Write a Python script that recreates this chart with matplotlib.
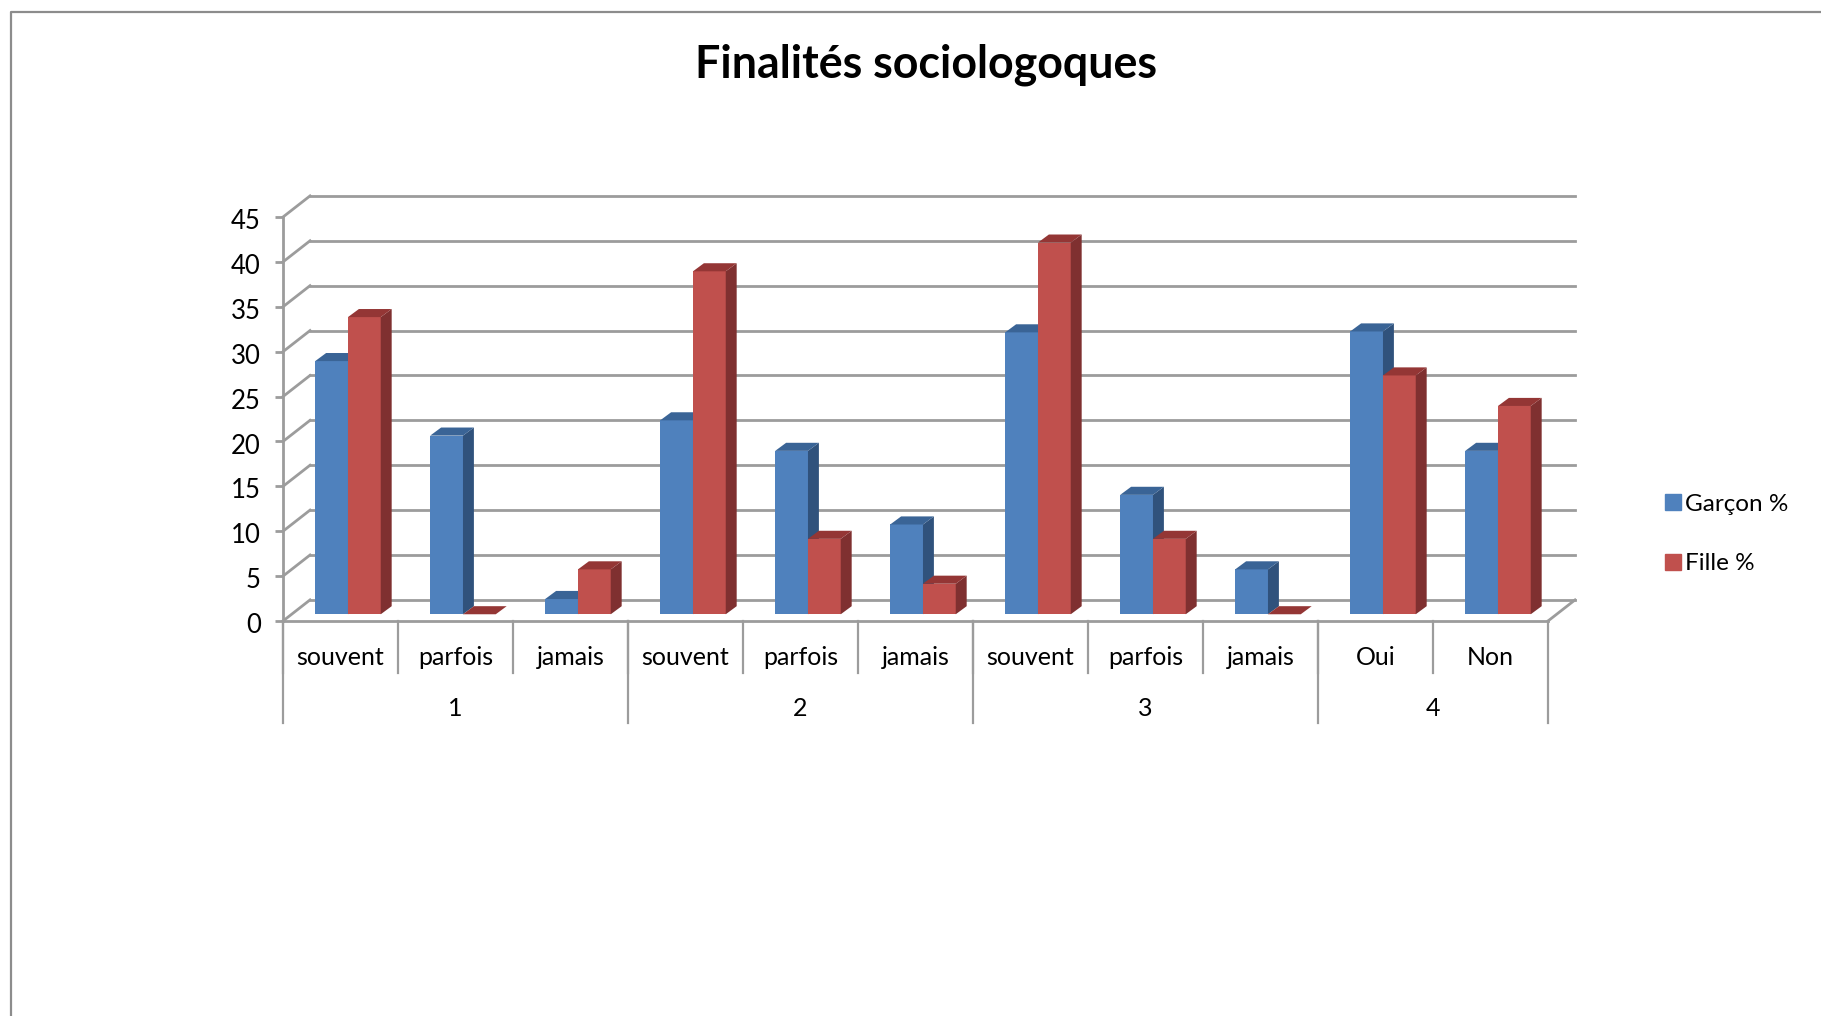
import matplotlib
matplotlib.use('Agg')
import matplotlib.pyplot as plt
from matplotlib.lines import Line2D
from matplotlib.patches import Patch, Polygon
from matplotlib.transforms import ScaledTranslation

plt.rcParams['font.family'] = ['Lato', 'DejaVu Sans']

# Values
categories = ['souvent', 'parfois', 'jamais', 'souvent', 'parfois', 'jamais',
              'souvent', 'parfois', 'jamais', 'Oui', 'Non']
groups = ['1', '2', '3', '4']
group_sizes = [3, 3, 3, 2]
garcon = [28.2, 19.9, 1.7, 21.6, 18.2, 10.0, 31.4, 13.3, 5.0, 31.5, 18.2]
fille = [33.1, 0, 5.0, 38.2, 8.4, 3.4, 41.4, 8.4, 0, 26.6, 23.2]
y_ticks = list(range(0, 50, 5))

W, H = 1821, 1016
fig = plt.figure(figsize=(W / 100, H / 100), dpi=100)
ax = fig.add_axes([283 / W, 1 - 621 / H, (1548 - 283) / W, (621 - 217) / H])
ax.set_xlim(0, 11)
ax.set_ylim(0, 45)
ax.patch.set_visible(False)

grey = '#9c9c9c'
wall_dx, wall_dy = 0.235, 2.35      # depth of the back wall
bar_dx, bar_dy = 0.095, 0.9         # depth of a bar
base = 0.75                         # bars stand a little behind the front edge
bar_w = 0.285
bar_start = 0.28

# Back wall lines and floor
for v in y_ticks:
    ax.plot([wall_dx, 11 + wall_dx], [v + wall_dy, v + wall_dy], color=grey, lw=2, clip_on=False, zorder=1)
    ax.plot([0, wall_dx], [v, v + wall_dy], color=grey, lw=2, clip_on=False, zorder=1)
ax.plot([11, 11 + wall_dx], [0, wall_dy], color=grey, lw=2, clip_on=False, zorder=1)


def draw_bar(x, value, front, side, top, z):
    y0, y1 = base, base + value
    if value > 0:
        ax.bar(x, value, bar_w, bottom=base, align='edge', color=front, clip_on=False, zorder=z)
        ax.add_patch(Polygon([(x + bar_w, y0), (x + bar_w + bar_dx, y0 + bar_dy),
                              (x + bar_w + bar_dx, y1 + bar_dy), (x + bar_w, y1)],
                             color=side, lw=0, clip_on=False, zorder=z))
    ax.add_patch(Polygon([(x, y1), (x + bar_dx, y1 + bar_dy),
                          (x + bar_w + bar_dx, y1 + bar_dy), (x + bar_w, y1)],
                         color=top, lw=0, clip_on=False, zorder=z))


for i in range(len(categories)):
    draw_bar(i + bar_start, garcon[i], '#4f81bd', '#30527c', '#3a6496', 3 + 2 * i)
    draw_bar(i + bar_start + bar_w, fille[i], '#c0504d', '#7f3030', '#943635', 4 + 2 * i)

# Axes
for name in ['top', 'right']:
    ax.spines[name].set_visible(False)
for name in ['left', 'bottom']:
    ax.spines[name].set_color(grey)
    ax.spines[name].set_linewidth(2)
ax.set_yticks(y_ticks)
ax.set_xticks([])
ax.tick_params(axis='y', length=6, width=2, color=grey, labelsize=18.5, pad=10, labelcolor='black')
# tick labels sit a bit under their ticks in the reference
down = ScaledTranslation(0, -1.5 / 72, fig.dpi_scale_trans)
for label in ax.get_yticklabels():
    label.set_transform(label.get_transform() + down)

# Two level category axis
for i, name in enumerate(categories):
    ax.text(i + 0.5, -4.05, name, ha='center', va='center', fontsize=18)
    ax.plot([i, i], [0, -5.8], color=grey, lw=1.6, clip_on=False, zorder=1)
ax.plot([11, 11], [0, -11.4], color=grey, lw=1.6, clip_on=False, zorder=1)
pos = 0
for name, size in zip(groups, group_sizes):
    ax.text(pos + size / 2, -9.7, name, ha='center', va='center', fontsize=18)
    ax.plot([pos, pos], [0, -11.4], color=grey, lw=1.6, clip_on=False, zorder=1)
    pos += size

fig.text(926 / W, 1 - 65 / H, 'Finalités sociologoques', ha='center', va='center',
         fontsize=32.2, fontweight='bold')

handles = [Patch(color='#4f81bd', label='Garçon %'), Patch(color='#c0504d', label='Fille %')]
fig.legend(handles=handles, loc='center left', bbox_to_anchor=(1665 / W, 1 - 534 / H), frameon=False,
           fontsize=17.5, handlelength=0.64, handleheight=0.64, handletextpad=0.2, labelspacing=1.6,
           borderpad=0, borderaxespad=0)

# Outer frame, cut by the picture edge
fig.add_artist(Line2D([11 / W, 11 / W, 1], [0, 1 - 12 / H, 1 - 12 / H], color='#8c8c8c', lw=1.6))

fig.savefig('out.png', dpi=100)
